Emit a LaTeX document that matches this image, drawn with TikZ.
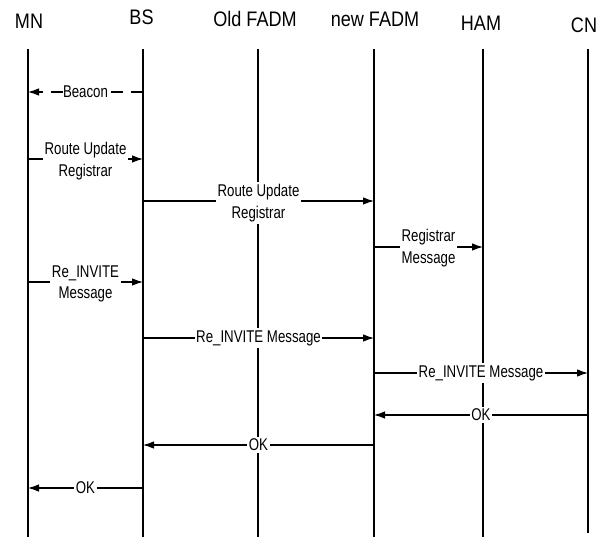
\documentclass[tikz,border=0pt]{standalone}
\usepackage{fontspec}
\newfontfamily\lblfont[FakeStretch=0.78]{Liberation Sans}
\newfontfamily\hdrfont[FakeStretch=0.86]{Liberation Sans}
\usetikzlibrary{arrows.meta}
\tikzset{
  hdr/.style={font={\hdrfont\fontsize{21}{24}\selectfont}, anchor=base, inner sep=0pt},
  life/.style={line width=1.5pt},
  msg/.style={line width=1.1pt, -{Latex[length=11pt,width=7.5pt]}},
  dmsg/.style={msg, dash pattern=on 12pt off 8pt},
  lbl/.style={font={\lblfont\fontsize{17}{21.5}\selectfont}, fill=white, inner xsep=1.5pt, inner ysep=2pt, align=center}
}
\begin{document}
\begin{tikzpicture}[x=1pt,y=-1pt]
\useasboundingbox[fill=white] (0,0) rectangle (605,537);
% headers
\node[hdr] (hMN)  at (29,29)  {MN};
\node[hdr] (hBS)  at (141.5,25) {BS};
\node[hdr] (hOF)  at (255,27) {Old FADM};
\node[hdr] (hNF)  at (375,27) {new FADM};
\node[hdr] (hHA)  at (481,31) {HAM};
\node[hdr] (hCN)  at (584,33) {CN};
% lifelines
\coordinate (MNt) at (28,49);  \coordinate (MNb) at (28,537);
\coordinate (BSt) at (143,49); \coordinate (BSb) at (143,537);
\coordinate (OFt) at (258,49); \coordinate (OFb) at (258,537);
\coordinate (NFt) at (374,49); \coordinate (NFb) at (374,537);
\coordinate (HAt) at (483,49); \coordinate (HAb) at (483,537);
\coordinate (CNt) at (588,49); \coordinate (CNb) at (588,533);
\foreach \l in {MN,BS,OF,NF,HA,CN} \draw[life] (\l t) -- (\l b);
% message end points
\coordinate (b1) at (143,92);  \coordinate (m1) at (28,92);
\coordinate (m2) at (28,159);  \coordinate (b2) at (143,159);
\coordinate (b3) at (143,201); \coordinate (n3) at (374,201);
\coordinate (n4) at (374,247); \coordinate (h4) at (483,247);
\coordinate (m5) at (28,282);  \coordinate (b5) at (143,282);
\coordinate (b6) at (143,338); \coordinate (n6) at (374,338);
\coordinate (n7) at (374,373); \coordinate (c7) at (588,373);
\coordinate (c8) at (588,415); \coordinate (n8) at (374,415);
\coordinate (n9) at (374,445); \coordinate (b9) at (143,445);
\coordinate (b10) at (143,488); \coordinate (m10) at (28,488);
% messages
\draw[dmsg] (b1) -- node[lbl, inner xsep=0.5pt] (t1) {Beacon} (m1);
\draw[msg] (m2) -- node[lbl, yshift=-2pt] (t2) {Route Update\\Registrar} (b2);
\draw[msg] (b3) -- node[lbl, yshift=-2pt] (t3) {Route Update\\Registrar} (n3);
\draw[msg] (n4) -- node[lbl, yshift=-1pt] (t4) {Registrar\\Message} (h4);
\draw[msg] (m5) -- node[lbl, yshift=-2pt] (t5) {Re\_INVITE\\Message} (b5);
\draw[msg] (b6) -- node[lbl] (t6) {Re\_INVITE Message} (n6);
\draw[msg] (n7) -- node[lbl] (t7) {Re\_INVITE Message} (c7);
\draw[msg] (c8) -- node[lbl] (t8) {OK} (n8);
\draw[msg] (n9) -- node[lbl] (t9) {OK} (b9);
\draw[msg] (b10) -- node[lbl] (t10) {OK} (m10);
\end{tikzpicture}
\end{document}
